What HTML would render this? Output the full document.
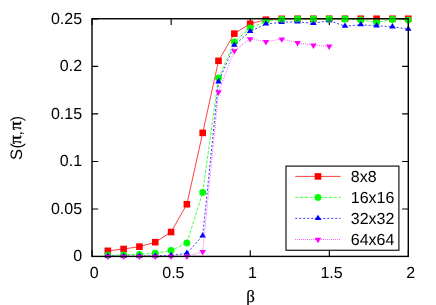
<!DOCTYPE html>
<html><head><meta charset="utf-8"><style>
html,body{margin:0;padding:0;background:#fff;}
svg{display:block}
text{text-rendering:geometricPrecision}
.t{font-family:"Liberation Sans",sans-serif;font-size:16px;fill:#000}
.s{font-family:"Liberation Serif",serif;font-size:15.3px;fill:#000}
</style></head><body>
<svg style="will-change:transform" width="436" height="305" viewBox="0 0 436 305">
<rect width="436" height="305" fill="#fff"/>
<path d="M92.0 256.52h6.2M408.3 256.52h-6.2" stroke="#000" stroke-width="1.15"/>
<path d="M92.0 208.99h6.2M408.3 208.99h-6.2" stroke="#000" stroke-width="1.15"/>
<path d="M92.0 161.46h6.2M408.3 161.46h-6.2" stroke="#000" stroke-width="1.15"/>
<path d="M92.0 113.93h6.2M408.3 113.93h-6.2" stroke="#000" stroke-width="1.15"/>
<path d="M92.0 66.40h6.2M408.3 66.40h-6.2" stroke="#000" stroke-width="1.15"/>
<path d="M92.0 18.87h6.2M408.3 18.87h-6.2" stroke="#000" stroke-width="1.15"/>
<path d="M92.10 256.4v-6.2M92.10 18.75v6.2" stroke="#000" stroke-width="1.15"/>
<path d="M171.17 256.4v-6.2M171.17 18.75v6.2" stroke="#000" stroke-width="1.15"/>
<path d="M250.25 256.4v-6.2M250.25 18.75v6.2" stroke="#000" stroke-width="1.15"/>
<path d="M329.33 256.4v-6.2M329.33 18.75v6.2" stroke="#000" stroke-width="1.15"/>
<path d="M408.40 256.4v-6.2M408.40 18.75v6.2" stroke="#000" stroke-width="1.15"/>
<polyline points="107.81,250.82 123.62,249.02 139.44,246.65 155.25,242.19 171.06,232.05 186.88,204.27 202.69,132.89 218.50,60.84 234.31,33.63 250.12,23.77 265.94,19.70 281.75,18.84 297.56,18.75 313.38,18.75 329.19,18.75 345.00,18.75 360.81,18.75 376.62,18.75 392.44,18.75 408.25,18.75" fill="none" stroke="#ff0000" stroke-width="0.75"/>
<rect x="104.51" y="247.52" width="6.60" height="6.60" fill="#ff0000"/>
<rect x="120.33" y="245.72" width="6.60" height="6.60" fill="#ff0000"/>
<rect x="136.14" y="243.35" width="6.60" height="6.60" fill="#ff0000"/>
<rect x="151.95" y="238.89" width="6.60" height="6.60" fill="#ff0000"/>
<rect x="167.76" y="228.75" width="6.60" height="6.60" fill="#ff0000"/>
<rect x="183.57" y="200.97" width="6.60" height="6.60" fill="#ff0000"/>
<rect x="199.39" y="129.59" width="6.60" height="6.60" fill="#ff0000"/>
<rect x="215.20" y="57.54" width="6.60" height="6.60" fill="#ff0000"/>
<rect x="231.01" y="30.33" width="6.60" height="6.60" fill="#ff0000"/>
<rect x="246.82" y="20.47" width="6.60" height="6.60" fill="#ff0000"/>
<rect x="262.64" y="16.40" width="6.60" height="6.60" fill="#ff0000"/>
<rect x="278.45" y="15.54" width="6.60" height="6.60" fill="#ff0000"/>
<rect x="294.26" y="15.45" width="6.60" height="6.60" fill="#ff0000"/>
<rect x="310.07" y="15.45" width="6.60" height="6.60" fill="#ff0000"/>
<rect x="325.89" y="15.45" width="6.60" height="6.60" fill="#ff0000"/>
<rect x="341.70" y="15.45" width="6.60" height="6.60" fill="#ff0000"/>
<rect x="357.51" y="15.45" width="6.60" height="6.60" fill="#ff0000"/>
<rect x="373.32" y="15.45" width="6.60" height="6.60" fill="#ff0000"/>
<rect x="389.14" y="15.45" width="6.60" height="6.60" fill="#ff0000"/>
<rect x="404.95" y="15.45" width="6.60" height="6.60" fill="#ff0000"/>
<polyline points="107.81,255.28 123.62,254.90 139.44,254.33 155.25,253.29 171.06,250.54 186.88,243.05 202.69,192.42 218.50,78.00 234.31,42.07 250.12,27.95 265.94,21.31 281.75,19.41 297.56,19.03 313.38,19.03 329.19,19.03 345.00,19.03 360.81,19.89 376.62,22.54 392.44,19.41 408.25,20.08" fill="none" stroke="#00ff00" stroke-width="0.75" stroke-dasharray="3.2 1.6"/>
<circle cx="107.81" cy="255.28" r="3.45" fill="#00ff00"/>
<circle cx="123.62" cy="254.90" r="3.45" fill="#00ff00"/>
<circle cx="139.44" cy="254.33" r="3.45" fill="#00ff00"/>
<circle cx="155.25" cy="253.29" r="3.45" fill="#00ff00"/>
<circle cx="171.06" cy="250.54" r="3.45" fill="#00ff00"/>
<circle cx="186.88" cy="243.05" r="3.45" fill="#00ff00"/>
<circle cx="202.69" cy="192.42" r="3.45" fill="#00ff00"/>
<circle cx="218.50" cy="78.00" r="3.45" fill="#00ff00"/>
<circle cx="234.31" cy="42.07" r="3.45" fill="#00ff00"/>
<circle cx="250.12" cy="27.95" r="3.45" fill="#00ff00"/>
<circle cx="265.94" cy="21.31" r="3.45" fill="#00ff00"/>
<circle cx="281.75" cy="19.41" r="3.45" fill="#00ff00"/>
<circle cx="297.56" cy="19.03" r="3.45" fill="#00ff00"/>
<circle cx="313.38" cy="19.03" r="3.45" fill="#00ff00"/>
<circle cx="329.19" cy="19.03" r="3.45" fill="#00ff00"/>
<circle cx="345.00" cy="19.03" r="3.45" fill="#00ff00"/>
<circle cx="360.81" cy="19.89" r="3.45" fill="#00ff00"/>
<circle cx="376.62" cy="22.54" r="3.45" fill="#00ff00"/>
<circle cx="392.44" cy="19.41" r="3.45" fill="#00ff00"/>
<circle cx="408.25" cy="20.08" r="3.45" fill="#00ff00"/>
<polyline points="107.81,256.13 123.62,256.13 139.44,256.13 155.25,255.94 171.06,255.56 186.88,253.19 202.69,235.84 218.50,81.79 234.31,45.20 250.12,31.36 265.94,23.96 281.75,22.26 297.56,21.88 313.38,23.30 329.19,20.65 345.00,26.14 360.81,24.72 376.62,25.77 392.44,26.81 408.25,29.08" fill="none" stroke="#0000ff" stroke-width="0.75" stroke-dasharray="2.1 1.9"/>
<polygon points="104.51,257.78 111.11,257.78 107.81,252.43" fill="#0000ff"/>
<polygon points="120.33,257.78 126.92,257.78 123.62,252.43" fill="#0000ff"/>
<polygon points="136.14,257.78 142.74,257.78 139.44,252.43" fill="#0000ff"/>
<polygon points="151.95,257.59 158.55,257.59 155.25,252.24" fill="#0000ff"/>
<polygon points="167.76,257.21 174.36,257.21 171.06,251.86" fill="#0000ff"/>
<polygon points="183.57,254.84 190.18,254.84 186.88,249.49" fill="#0000ff"/>
<polygon points="199.39,237.49 205.99,237.49 202.69,232.15" fill="#0000ff"/>
<polygon points="215.20,83.44 221.80,83.44 218.50,78.10" fill="#0000ff"/>
<polygon points="231.01,46.85 237.61,46.85 234.31,41.50" fill="#0000ff"/>
<polygon points="246.82,33.01 253.43,33.01 250.12,27.66" fill="#0000ff"/>
<polygon points="262.64,25.61 269.24,25.61 265.94,20.27" fill="#0000ff"/>
<polygon points="278.45,23.91 285.05,23.91 281.75,18.56" fill="#0000ff"/>
<polygon points="294.26,23.53 300.86,23.53 297.56,18.18" fill="#0000ff"/>
<polygon points="310.07,24.95 316.68,24.95 313.38,19.60" fill="#0000ff"/>
<polygon points="325.89,22.30 332.49,22.30 329.19,16.95" fill="#0000ff"/>
<polygon points="341.70,27.79 348.30,27.79 345.00,22.45" fill="#0000ff"/>
<polygon points="357.51,26.37 364.11,26.37 360.81,21.03" fill="#0000ff"/>
<polygon points="373.32,27.42 379.93,27.42 376.62,22.07" fill="#0000ff"/>
<polygon points="389.14,28.46 395.74,28.46 392.44,23.11" fill="#0000ff"/>
<polygon points="404.95,30.73 411.55,30.73 408.25,25.39" fill="#0000ff"/>
<polyline points="107.81,256.41 123.62,256.41 139.44,256.41 155.25,256.41 171.06,256.41 186.88,256.41 202.69,251.77 218.50,91.94 234.31,50.79 250.12,38.85 265.94,41.69 281.75,39.04 297.56,42.73 313.38,45.20 329.19,46.24" fill="none" stroke="#ff00ff" stroke-width="0.75" stroke-dasharray="0.8 1.2"/>
<polygon points="104.51,254.76 111.11,254.76 107.81,260.11" fill="#ff00ff"/>
<polygon points="120.33,254.76 126.92,254.76 123.62,260.11" fill="#ff00ff"/>
<polygon points="136.14,254.76 142.74,254.76 139.44,260.11" fill="#ff00ff"/>
<polygon points="151.95,254.76 158.55,254.76 155.25,260.11" fill="#ff00ff"/>
<polygon points="167.76,254.76 174.36,254.76 171.06,260.11" fill="#ff00ff"/>
<polygon points="183.57,254.76 190.18,254.76 186.88,260.11" fill="#ff00ff"/>
<polygon points="199.39,250.12 205.99,250.12 202.69,255.46" fill="#ff00ff"/>
<polygon points="215.20,90.29 221.80,90.29 218.50,95.63" fill="#ff00ff"/>
<polygon points="231.01,49.14 237.61,49.14 234.31,54.49" fill="#ff00ff"/>
<polygon points="246.82,37.20 253.43,37.20 250.12,42.54" fill="#ff00ff"/>
<polygon points="262.64,40.04 269.24,40.04 265.94,45.39" fill="#ff00ff"/>
<polygon points="278.45,37.39 285.05,37.39 281.75,42.73" fill="#ff00ff"/>
<polygon points="294.26,41.08 300.86,41.08 297.56,46.43" fill="#ff00ff"/>
<polygon points="310.07,43.55 316.68,43.55 313.38,48.90" fill="#ff00ff"/>
<polygon points="325.89,44.59 332.49,44.59 329.19,49.94" fill="#ff00ff"/>
<rect x="286.0" y="166.1" width="112.9" height="84.15" fill="#fff" stroke="#000" stroke-width="1.1"/>
<path d="M295.2 176.4H340.6" stroke="#ff0000" stroke-width="0.75"/>
<rect x="314.70" y="173.10" width="6.60" height="6.60" fill="#ff0000"/>
<text x="350.8" y="181.6" class="t">8x8</text>
<path d="M295.2 197.4H340.6" stroke="#00ff00" stroke-width="0.75" stroke-dasharray="3.2 1.6"/>
<circle cx="318.00" cy="197.40" r="3.45" fill="#00ff00"/>
<text x="350.8" y="202.6" class="t">16x16</text>
<path d="M295.2 218.4H340.6" stroke="#0000ff" stroke-width="0.75" stroke-dasharray="2.1 1.9"/>
<polygon points="314.70,220.05 321.30,220.05 318.00,214.70" fill="#0000ff"/>
<text x="350.8" y="223.6" class="t">32x32</text>
<path d="M295.2 239.5H340.6" stroke="#ff00ff" stroke-width="0.75" stroke-dasharray="0.8 1.2"/>
<polygon points="314.70,237.85 321.30,237.85 318.00,243.20" fill="#ff00ff"/>
<text x="350.8" y="244.7" class="t">64x64</text>
<rect x="92.0" y="18.75" width="316.30" height="237.65" fill="none" stroke="#000" stroke-width="1.4"/>
<circle cx="281.75" cy="19.41" r="3.45" fill="#00ff00" opacity="0.6"/>
<circle cx="297.56" cy="19.03" r="3.45" fill="#00ff00" opacity="0.6"/>
<circle cx="313.38" cy="19.03" r="3.45" fill="#00ff00" opacity="0.6"/>
<circle cx="329.19" cy="19.03" r="3.45" fill="#00ff00" opacity="0.6"/>
<circle cx="345.00" cy="19.03" r="3.45" fill="#00ff00" opacity="0.6"/>
<circle cx="392.44" cy="19.41" r="3.45" fill="#00ff00" opacity="0.6"/>
<text x="82.1" y="261.40" text-anchor="end" class="t">0</text>
<text x="82.1" y="213.87" text-anchor="end" class="t">0.05</text>
<text x="82.1" y="166.34" text-anchor="end" class="t">0.1</text>
<text x="82.1" y="118.81" text-anchor="end" class="t">0.15</text>
<text x="82.1" y="71.28" text-anchor="end" class="t">0.2</text>
<text x="82.1" y="23.75" text-anchor="end" class="t">0.25</text>
<text x="94.30" y="278" text-anchor="middle" class="t">0</text>
<text x="173.38" y="278" text-anchor="middle" class="t">0.5</text>
<text x="252.45" y="278" text-anchor="middle" class="t">1</text>
<text x="331.53" y="278" text-anchor="middle" class="t">1.5</text>
<text x="410.60" y="278" text-anchor="middle" class="t">2</text>
<text x="246.2" y="302" class="s" style="font-size:17px" stroke="#000" stroke-width="0.25">β</text>
<g transform="translate(21.5,160) rotate(-90)"><text x="0.1" y="0" class="t" style="font-size:16.6px">S</text><text x="11.4" y="0" class="t">(</text><text x="15.9" y="-0.5" class="s" style="font-size:17.5px" stroke="#000" stroke-width="0.35">π</text><text x="24.6" y="0" class="t">,</text><text x="30.0" y="-0.5" class="s" style="font-size:17.5px" stroke="#000" stroke-width="0.35">π</text><text x="38.65" y="0" class="t">)</text></g>
</svg>
</body></html>
